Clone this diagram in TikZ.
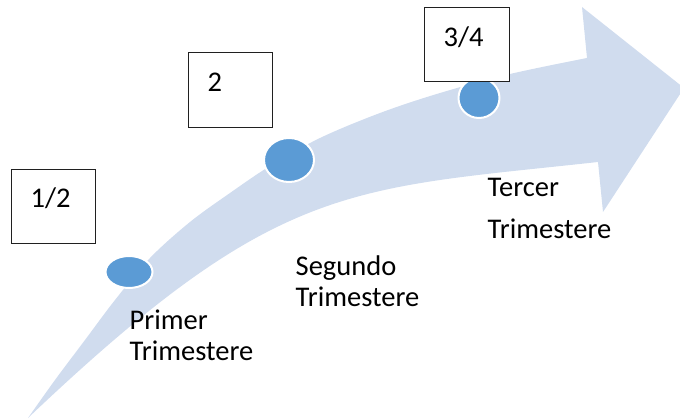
\documentclass[tikz,border=0pt]{standalone}
\usepackage{fontspec}
\setmainfont{Carlito}
\usetikzlibrary{shapes.geometric}
\definecolor{arrowfill}{HTML}{D0DCEE}
\definecolor{dotfill}{HTML}{5B9BD5}
\definecolor{boxline}{HTML}{202020}
\tikzset{
  dot/.style={ellipse, fill=dotfill, draw=white, line width=2pt, inner sep=0pt},
  numbox/.style={rectangle, draw=boxline, line width=1pt, fill=white, inner sep=0pt},
  lbl/.style={anchor=base west, inner sep=0pt, font=\fontsize{28.5}{30.8}\selectfont},
}
\begin{document}
\begin{tikzpicture}[x=1pt, y=-1pt]
\useasboundingbox (0,0) rectangle (680,419);
% curved arrow
\fill[arrowfill]
  plot[smooth, tension=0.55] coordinates {(28,418) (55,380) (85,340) (115,300) (150,258) (190,222) (230,193) (270,166) (320,138) (380,113) (440,93) (510,74) (587,58)}
  -- (582,7) -- (684,88) -- (603,212) -- (598,162)
  .. controls (348,189.5) and (278,180.5) .. (28,418)
  -- cycle;
% dots
\node[dot, minimum width=47pt, minimum height=32pt] (d1) at (129,272) {};
\node[dot, minimum width=50pt, minimum height=44pt] (d2) at (289,160) {};
\node[dot, minimum width=41pt, minimum height=40pt] (d3) at (479,98) {};
% boxes
\node[numbox, minimum width=84pt, minimum height=74pt] (b1) at (53,207) {};
\node[numbox, minimum width=84pt, minimum height=75pt] (b2) at (230,90.5) {};
\node[numbox, minimum width=85pt, minimum height=74pt] (b3) at (466.5,45) {};
\node[lbl] (t1) at (30.5,208) {1/2};
\node[lbl] (t2) at (207.5,92) {2};
\node[lbl] (t3) at (443.5,47) {3/4};
% labels
\node[lbl] (l1) at (129.5,330) {\begin{tabular}[t]{@{}l@{}}Primer\\Trimestere\end{tabular}};
\node[lbl] (l2) at (295.5,276) {\begin{tabular}[t]{@{}l@{}}Segundo\\Trimestere\end{tabular}};
\node[lbl] (l3) at (487.5,197) {\begin{tabular}[t]{@{}l@{}}Tercer\\[11.2pt]Trimestere\end{tabular}};
\end{tikzpicture}
\end{document}
